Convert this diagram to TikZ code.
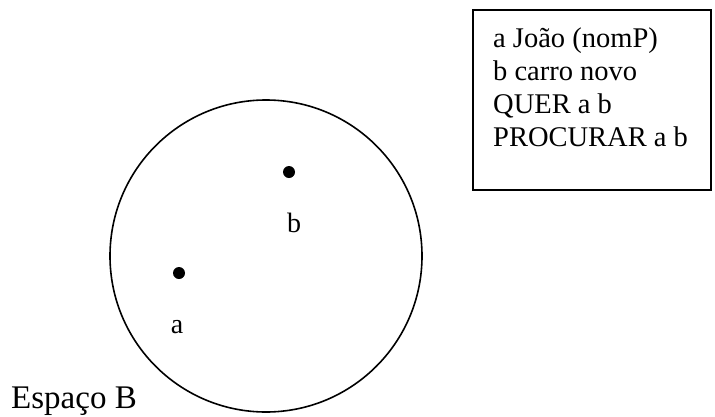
\documentclass[tikz,border=0pt]{standalone}
\usepackage{fontspec}
\setmainfont{Liberation Serif}
\begin{document}
\begin{tikzpicture}[x=1pt,y=-1pt,
  dot/.style={circle,fill=black,inner sep=0pt,minimum size=12pt},
  lbl/.style={inner sep=0pt,font=\fontsize{28}{28}\selectfont},
  info/.style={inner sep=0pt,align=left,font=\fontsize{28.5}{32.8}\selectfont}]
\useasboundingbox (0,0) rectangle (715,416);
\node[circle,draw,line width=1.6pt,minimum size=312pt,inner sep=0pt] (space) at (266,256) {};
\node[dot] (pb) at (289,172) {};
\node[dot] (pa) at (179,273) {};
\node[lbl] (lb) at (294,223) {b};
\node[lbl] (la) at (177,327) {a};
\node[inner sep=0pt,anchor=base west,font=\fontsize{33}{33}\selectfont] (name) at (11,408) {Espaço B};
\draw[line width=1.6pt] (473,10) rectangle (711,190);
\node[info,anchor=north west] (txt) at (493,28) {a João (nomP)\\b carro novo\\QUER a b\\PROCURAR a b};
\end{tikzpicture}
\end{document}
